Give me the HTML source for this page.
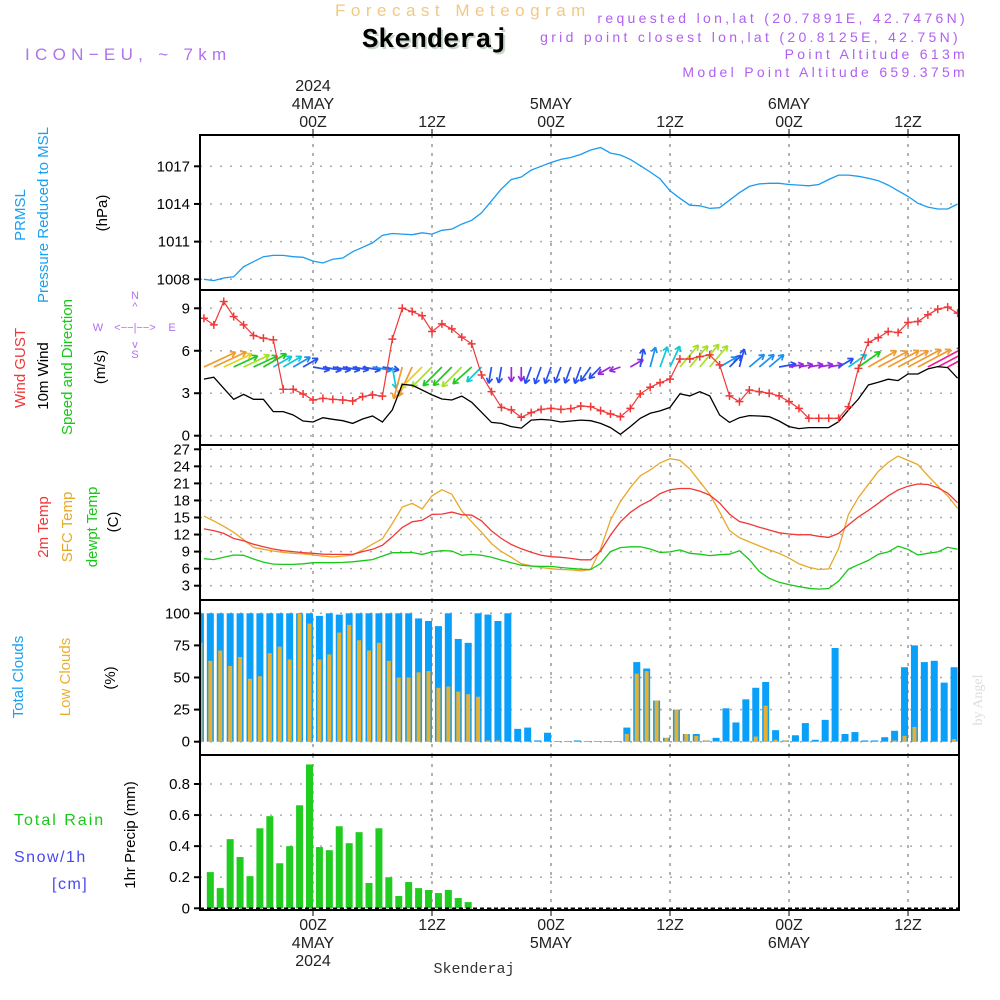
<!DOCTYPE html>
<html><head><meta charset="utf-8"><style>
html,body{margin:0;padding:0;background:#fff;}
svg{display:block;font-family:"Liberation Sans",sans-serif;}
</style></head><body>
<svg id="chart" width="1000" height="1000" viewBox="0 0 1000 1000"></svg>
<script>
// ---- data (hourly, h = -11 .. 65 relative to 00Z 4 MAY 2024) ----
const hourStart = -11;
const pressure = [1008.0,1007.9,1008.1,1008.2,1009.0,1009.4,1009.8,1009.9,1009.9,1009.8,1009.75,1009.45,1009.3,1009.6,1009.7,1010.2,1010.55,1010.9,1011.5,1011.65,1011.6,1011.55,1011.7,1011.6,1011.9,1012.0,1012.4,1012.7,1013.3,1014.25,1015.2,1015.95,1016.15,1016.7,1017.0,1017.3,1017.55,1017.7,1017.95,1018.3,1018.5,1018.05,1017.9,1017.55,1017.05,1016.55,1016.0,1015.05,1014.45,1013.9,1013.85,1013.65,1013.7,1014.3,1014.9,1015.4,1015.6,1015.65,1015.65,1015.55,1015.5,1015.45,1015.55,1015.95,1016.3,1016.3,1016.2,1016.05,1015.85,1015.5,1015.05,1014.6,1014.05,1013.75,1013.6,1013.6,1014.0];
const gust = [8.3,7.83,9.48,8.42,7.83,7.08,6.89,6.77,3.28,3.28,2.95,2.52,2.64,2.57,2.52,2.45,2.76,2.88,2.8,6.82,9.0,8.77,8.47,7.36,7.9,7.55,6.96,6.49,4.29,3.11,2.0,1.82,1.3,1.63,1.86,1.93,1.86,1.91,2.1,2.05,1.77,1.53,1.34,1.93,2.95,3.42,3.75,4.0,5.42,5.42,5.59,5.71,5.0,2.81,2.41,3.23,3.11,3.0,2.81,2.41,1.93,1.23,1.23,1.23,1.23,2.05,4.76,6.6,6.93,7.36,7.29,8.0,8.07,8.54,8.94,9.08,8.66];
const windSpeed = [4.0,4.13,3.35,2.57,2.92,2.57,2.57,1.7,1.7,1.46,1.04,0.97,1.27,1.16,1.06,0.87,1.18,1.39,0.97,1.82,3.63,3.56,3.23,2.88,2.59,2.52,2.8,2.36,1.65,0.94,0.87,0.64,0.54,1.1,1.15,1.1,0.97,1.04,1.1,1.06,0.87,0.57,0.1,0.64,1.23,1.58,1.75,2.0,2.95,2.81,3.11,2.81,1.46,0.94,1.27,1.42,1.39,1.34,1.04,0.64,0.5,0.57,0.57,0.57,0.99,1.82,2.59,3.58,3.77,3.99,3.89,4.36,4.36,4.72,4.88,4.81,4.06];
const windDir = [65,65,65,65,65,65,60,60,60,60,60,100,100,100,100,100,100,100,100,170,195,205,225,225,225,225,225,228,225,190,190,180,180,200,200,200,200,200,200,215,225,240,250,60,10,15,20,25,40,40,40,40,60,45,15,50,50,50,80,80,80,80,80,80,60,55,55,60,62,62,62,62,62,62,62,62,62];
const temp2m = [13.0,12.7,12.2,11.3,10.9,10.3,9.85,9.45,9.15,9.0,8.8,8.7,8.55,8.5,8.5,8.5,9.0,9.4,10.1,11.6,13.25,14.25,14.5,15.55,15.6,15.95,15.5,15.4,14.4,12.65,11.3,10.25,9.5,8.9,8.35,8.1,8.0,7.8,7.55,7.55,9.1,11.9,14.25,15.9,17.1,18.0,19.2,19.9,20.1,20.1,19.65,18.95,17.55,15.6,14.3,13.85,13.3,12.8,12.3,12.1,11.95,12.0,11.7,11.5,12.2,13.7,15.1,16.25,17.5,18.8,19.85,20.5,20.9,20.8,20.25,19.3,17.6];
const tempSfc = [15.25,14.4,13.45,12.4,11.1,9.75,9.4,9.1,8.85,8.7,8.6,8.4,8.2,8.05,8.2,8.4,9.3,10.3,11.25,13.95,16.85,17.5,16.5,18.8,19.9,19.1,16.15,14.25,12.4,10.4,9.0,8.0,6.85,6.5,6.2,6.0,5.85,5.8,5.6,5.85,9.45,14.55,17.8,20.25,22.35,23.35,24.6,25.35,25.05,23.55,21.3,19.1,16.0,12.7,11.45,10.7,10.0,9.3,8.7,7.85,6.85,6.25,5.85,5.95,9.55,15.55,18.5,20.85,23.1,24.7,25.8,25.05,24.3,22.35,20.55,18.8,16.6];
const dewpt = [7.75,7.6,8.0,8.4,8.35,7.7,7.15,6.8,6.75,6.75,6.85,7.05,7.05,7.05,7.1,7.2,7.4,7.6,8.2,8.8,8.8,8.85,8.5,8.95,9.15,9.1,8.35,8.5,8.35,8.0,7.5,7.05,6.6,6.45,6.4,6.4,6.2,6.05,5.9,5.85,6.9,9.0,9.7,9.85,9.85,9.45,8.85,8.95,9.3,8.7,8.55,8.3,8.45,8.55,9.15,7.6,5.5,4.3,3.6,3.2,2.85,2.55,2.4,2.5,3.8,5.9,6.7,7.45,8.55,8.95,9.95,9.4,8.4,8.7,8.95,9.75,9.4];
const totalClouds = [100,100,100,100,100,100,100,100,100,100,100,100,98,100,99,100,100,100,100,100,100,100,96,94,90,100,80,77,100,99,94,100,10,11,1,7,0.5,0.5,1,0.5,0.5,0.5,0.5,11,62,57,32,3,25,6,6,1,3,26,15,33,42,46.5,9,1,5,14.5,1.5,17,73,6,7.5,1,1,3.5,8.5,58,75,62,63,46,58];
const lowClouds = [77,63,71,59,66,49,51,69,74,64,99.5,92,64,68,85,91,79,71,77,63,50,50,54,55,42,43,39,37,35,1,1,0,0,0,0,0,0,0,0,0,0,0,0,6,53,55,32,3,25,6,4.5,1,0.5,0.5,0,0,4,28,1.5,1,0,0,0,0,0,0,0,0,0,0,1,4.5,11.5,0,0,0,2];
const precip = [0,0.233,0.13,0.445,0.33,0.207,0.515,0.593,0.29,0.40,0.663,0.926,0.394,0.374,0.528,0.419,0.49,0.163,0.515,0.20,0.079,0.169,0.13,0.118,0.098,0.118,0.066,0.04];
const pressTicks = [1008,1011,1014,1017];
const windTicks = [0,3,6,9];
const tempTicks = [3,6,9,12,15,18,21,24,27];
const cloudTicks = [0,25,50,75,100];
const precipTicks = [0,0.2,0.4,0.6,0.8];
const timeTickHours = [0,12,24,36,48,60];
const timeTickLabels = ["00Z","12Z","00Z","12Z","00Z","12Z"];
const dayHours = [0,24,48];
const dayLabels = ["4MAY","5MAY","6MAY"];

// ---- layout ----
const NS = "http://www.w3.org/2000/svg";
const svg = document.getElementById("chart");
const X0 = 200, X1 = 959;
const xh = h => 313 + h * 9.917;
const lin = (d0, d1, p0, p1) => v => p0 + (v - d0) * (p1 - p0) / (d1 - d0);
const panels = [
  {name:"pressure", top:135, bot:290, y: lin(1008,1017,279.3,166.3), ticks: pressTicks, fmt: v=>String(v)},
  {name:"wind", top:290, bot:445, y: lin(0,9,435.7,308.3), ticks: windTicks, fmt: v=>String(v)},
  {name:"temperature", top:445, bot:600, y: lin(3,27,585.7,449.3), ticks: tempTicks, fmt: v=>String(v)},
  {name:"clouds", top:600, bot:755, y: lin(0,100,741.7,613.3), ticks: cloudTicks, fmt: v=>String(v)},
  {name:"precip", top:755, bot:910, y: lin(0,0.8,908.3,784), ticks: precipTicks, fmt: v=>v===0?"0":v.toFixed(1)}
];
function mk(tag, attrs, parent){
  const e = document.createElementNS(NS, tag);
  for (const k in attrs) e.setAttribute(k, attrs[k]);
  (parent || svg).appendChild(e);
  return e;
}
function txt(s, x, y, attrs, parent){
  const t = mk("text", Object.assign({x:x, y:y}, attrs), parent);
  t.textContent = s;
  return t;
}
const defs = mk("defs", {});
panels.forEach((p, i) => {
  const cp = mk("clipPath", {id:"clip"+i}, defs);
  mk("rect", {x:X0, y:p.top, width:X1-X0, height:p.bot-p.top}, cp);
});

panels.forEach((p, i) => {
  const g = mk("g", {});
  
  
  p.g = mk("g", {"clip-path":"url(#clip"+i+")"}, g);
  timeTickHours.forEach(h => {
    const l = mk("line", {x1:xh(h), x2:xh(h), y1:p.top, y2:p.bot, stroke:"#999", "stroke-width":1.5, "stroke-dasharray":"3,6"}, p.g);
    
    
  });
  p.ticks.forEach(v => {
    const yy = p.y(v);
    const l = mk("line", {x1:X0, x2:X1, y1:yy, y2:yy, stroke:"#aaa", "stroke-width":1.5, "stroke-dasharray":"2,8"}, p.g);
    
    
    mk("line", {x1:X0-6, x2:X0, y1:yy, y2:yy, stroke:"#000", "stroke-width":2}, g);
    const t = txt(p.fmt(v), X0-10, yy+5, {"text-anchor":"end", "font-size":15, fill:"#000"}, g);
    
    
  });
  p.frame = g;
});

// ---- pressure ----
(function(){
  const p = panels[0];
  const pts = pressure.map((v,i) => xh(hourStart+i).toFixed(1)+","+p.y(v).toFixed(1)).join(" ");
  const l = mk("polyline", {points:pts, fill:"none", stroke:"#1a9cf0", "stroke-width":1.3}, p.g);
  
  
})();

// ---- wind ----
function speedColor(s){
  if (s < 0.75) return "#9a28e0";
  if (s < 1.3) return "#2850f0";
  if (s < 1.6) return "#1c90f0";
  if (s < 2.1) return "#10c8d8";
  if (s < 2.7) return "#20c820";
  if (s < 3.2) return "#a8e028";
  if (s < 3.5) return "#e8d020";
  if (s < 4.5) return "#f09a30";
  return "#f02090";
}
(function(){
  const p = panels[1];
  windDir.forEach((d, i) => {
    const s = windSpeed[i];
    const L = 11 + 6 * s;
    const x0 = xh(hourStart+i), y0 = 367;
    const r = d * Math.PI / 180;
    const x1 = x0 + Math.sin(r) * L, y1 = y0 - Math.cos(r) * L;
    const c = speedColor(s);
    const a = mk("g", {stroke:c, "stroke-width":1.7, fill:"none"}, p.g);
    
    
    mk("line", {x1:x0, y1:y0, x2:x1, y2:y1}, a);
    const hl = 6;
    [150, -150].forEach(off => {
      const rr = r + off * Math.PI / 180;
      mk("line", {x1:x1, y1:y1, x2:x1 + Math.sin(rr)*hl, y2:y1 - Math.cos(rr)*hl}, a);
    });
  });
  const sp = windSpeed.map((v,i) => xh(hourStart+i).toFixed(1)+","+p.y(v).toFixed(1)).join(" ");
  const l = mk("polyline", {points:sp, fill:"none", stroke:"#000", "stroke-width":1.3}, p.g);
  
  
  const gp = gust.map((v,i) => xh(hourStart+i).toFixed(1)+","+p.y(v).toFixed(1)).join(" ");
  const gl = mk("polyline", {points:gp, fill:"none", stroke:"#f03838", "stroke-width":1.2}, p.g);
  
  
  gust.forEach((v,i) => {
    const x = xh(hourStart+i), y = p.y(v);
    const m = mk("path", {d:`M${x-4},${y}H${x+4}M${x},${y-4}V${y+4}`, stroke:"#f03838", "stroke-width":1.5}, p.g);
    
    
  });
})();

// ---- temperature ----
[[tempSfc,"#e8a828","sfc-temp-line"],[dewpt,"#18c818","dewpoint-line"],[temp2m,"#f03838","temp-2m-line"]].forEach(([arr,c,n]) => {
  const p = panels[2];
  const pts = arr.map((v,i) => xh(hourStart+i).toFixed(1)+","+p.y(v).toFixed(1)).join(" ");
  const l = mk("polyline", {points:pts, fill:"none", stroke:c, "stroke-width":1.3}, p.g);
  
  
});

// ---- clouds ----
(function(){
  const p = panels[3];
  totalClouds.forEach((v,i) => {
    const xr = xh(hourStart+i);
    const b = mk("rect", {x:xr-7, y:p.y(v), width:7, height:p.y(0)-p.y(v), fill:"#0aa0fa"}, p.g);
    
    
  });
  lowClouds.forEach((v,i) => {
    if (v <= 0) return;
    const xr = xh(hourStart+i);
    const b = mk("rect", {x:xr-5.5, y:p.y(v), width:4, height:p.y(0)-p.y(v), fill:"#e8b030"}, p.g);
    
    
  });
})();

// ---- precip ----
(function(){
  const p = panels[4];
  precip.forEach((v,i) => {
    if (v <= 0) return;
    const xr = xh(hourStart+i);
    const b = mk("rect", {x:xr-7, y:p.y(v), width:7, height:p.y(0)-p.y(v), fill:"#20cc20"}, p.g);
    
    
  });
  mk("line", {x1:X0, x2:X1, y1:p.y(0), y2:p.y(0), stroke:"#000", "stroke-width":1.5, "stroke-dasharray":"4,3"}, p.g);
})();

panels.forEach(p => {
  const r = mk("rect", {x:X0, y:p.top, width:X1-X0, height:p.bot-p.top, fill:"none", stroke:"#000", "stroke-width":2}, p.frame);
  
  
});

timeTickHours.forEach((h,i) => {
  const x = xh(h);
  mk("line", {x1:x, x2:x, y1:129, y2:135, stroke:"#000", "stroke-width":1}, svg);
  mk("line", {x1:x, x2:x, y1:910, y2:916, stroke:"#000", "stroke-width":1}, svg);
  const t1 = txt(timeTickLabels[i], x, 127, {"text-anchor":"middle","font-size":16,fill:"#222"});
  
  
  const t2 = txt(timeTickLabels[i], x, 930, {"text-anchor":"middle","font-size":16,fill:"#222"});
  
  
});
dayHours.forEach((h,i) => {
  const x = xh(h);
  const t1 = txt(dayLabels[i], x, 109, {"text-anchor":"middle","font-size":16,fill:"#222"});
  
  
  const t2 = txt(dayLabels[i], x, 948, {"text-anchor":"middle","font-size":16,fill:"#222"});
  
  
});
</script>
<svg width="1000" height="1000" style="position:absolute;left:0;top:0;pointer-events:none" font-family="Liberation Sans, sans-serif">
  <text x="335" y="16" font-size="17" fill="#f2c883" letter-spacing="5.5">Forecast Meteogram</text>
  <text x="437" y="49" text-anchor="middle" font-size="27" font-weight="bold" font-family="Liberation Mono, monospace" fill="#c8d8c8">Skenderaj</text>
  <text x="435" y="47" text-anchor="middle" font-size="27" font-weight="bold" font-family="Liberation Mono, monospace" fill="#000">Skenderaj</text>
  <text x="25" y="60" font-size="17" fill="#b070f0" letter-spacing="5.3">ICON−EU, ~ 7km</text>
  <g font-size="14" fill="#b060f0" text-anchor="end" letter-spacing="3.3">
    <text x="968" y="23">requested lon,lat (20.7891E, 42.7476N)</text>
    <text x="961" y="42">grid point closest lon,lat (20.8125E, 42.75N)</text>
    <text x="968" y="59">Point Altitude 613m</text>
    <text x="968" y="77">Model Point Altitude 659.375m</text>
  </g>
  <text x="313" y="91" text-anchor="middle" font-size="16" fill="#222">2024</text>
  <text x="313" y="966" text-anchor="middle" font-size="16" fill="#222">2024</text>
  <text x="474" y="973" text-anchor="middle" font-size="15" font-family="Liberation Mono, monospace" fill="#333">Skenderaj</text>
  <g font-size="15" text-anchor="middle">
    <text transform="translate(25,215) rotate(-90)" fill="#1aa0f0">PRMSL</text>
    <text transform="translate(48,215) rotate(-90)" fill="#1aa0f0">Pressure Reduced to MSL</text>
    <text transform="translate(107,213) rotate(-90)" fill="#000">(hPa)</text>
    <text transform="translate(25,368) rotate(-90)" fill="#f03838">Wind GUST</text>
    <text transform="translate(48,376) rotate(-90)" fill="#000">10m Wind</text>
    <text transform="translate(72,367) rotate(-90)" fill="#18c818">Speed and Direction</text>
    <text transform="translate(105,367) rotate(-90)" fill="#000">(m/s)</text>
    <text transform="translate(48,527) rotate(-90)" fill="#f03838">2m Temp</text>
    <text transform="translate(72,527) rotate(-90)" fill="#e8a828">SFC Temp</text>
    <text transform="translate(97,527) rotate(-90)" fill="#18c818">dewpt Temp</text>
    <text transform="translate(118,522) rotate(-90)" fill="#000">(C)</text>
    <text transform="translate(23,677) rotate(-90)" fill="#1aa0f0">Total Clouds</text>
    <text transform="translate(70,677) rotate(-90)" fill="#e8b030">Low Clouds</text>
    <text transform="translate(115,678) rotate(-90)" fill="#000">(%)</text>
    <text transform="translate(135,835) rotate(-90)" fill="#000">1hr Precip (mm)</text>
  </g>
  <text x="14" y="825" font-size="16" fill="#18c818" letter-spacing="2">Total  Rain</text>
  <text x="14" y="862" font-size="16" fill="#4848f0" letter-spacing="1.5">Snow/1h</text>
  <text x="52" y="889" font-size="16" fill="#4848f0" letter-spacing="1.5">[cm]</text>
  <g font-size="11" fill="#b070f0" text-anchor="middle">
    <text x="135" y="299">N</text>
    <text x="135" y="310">^</text>
    <text x="98" y="331">W</text>
    <text x="135" y="331">&lt;−−|−−&gt;</text>
    <text x="172" y="331">E</text>
    <text x="135" y="348">v</text>
    <text x="135" y="358">S</text>
  </g>
  <text transform="translate(982,700) rotate(-90)" font-size="14" font-family="Liberation Serif, serif" fill="#ddd" text-anchor="middle">by Angel</text>
</svg>
</body></html>
